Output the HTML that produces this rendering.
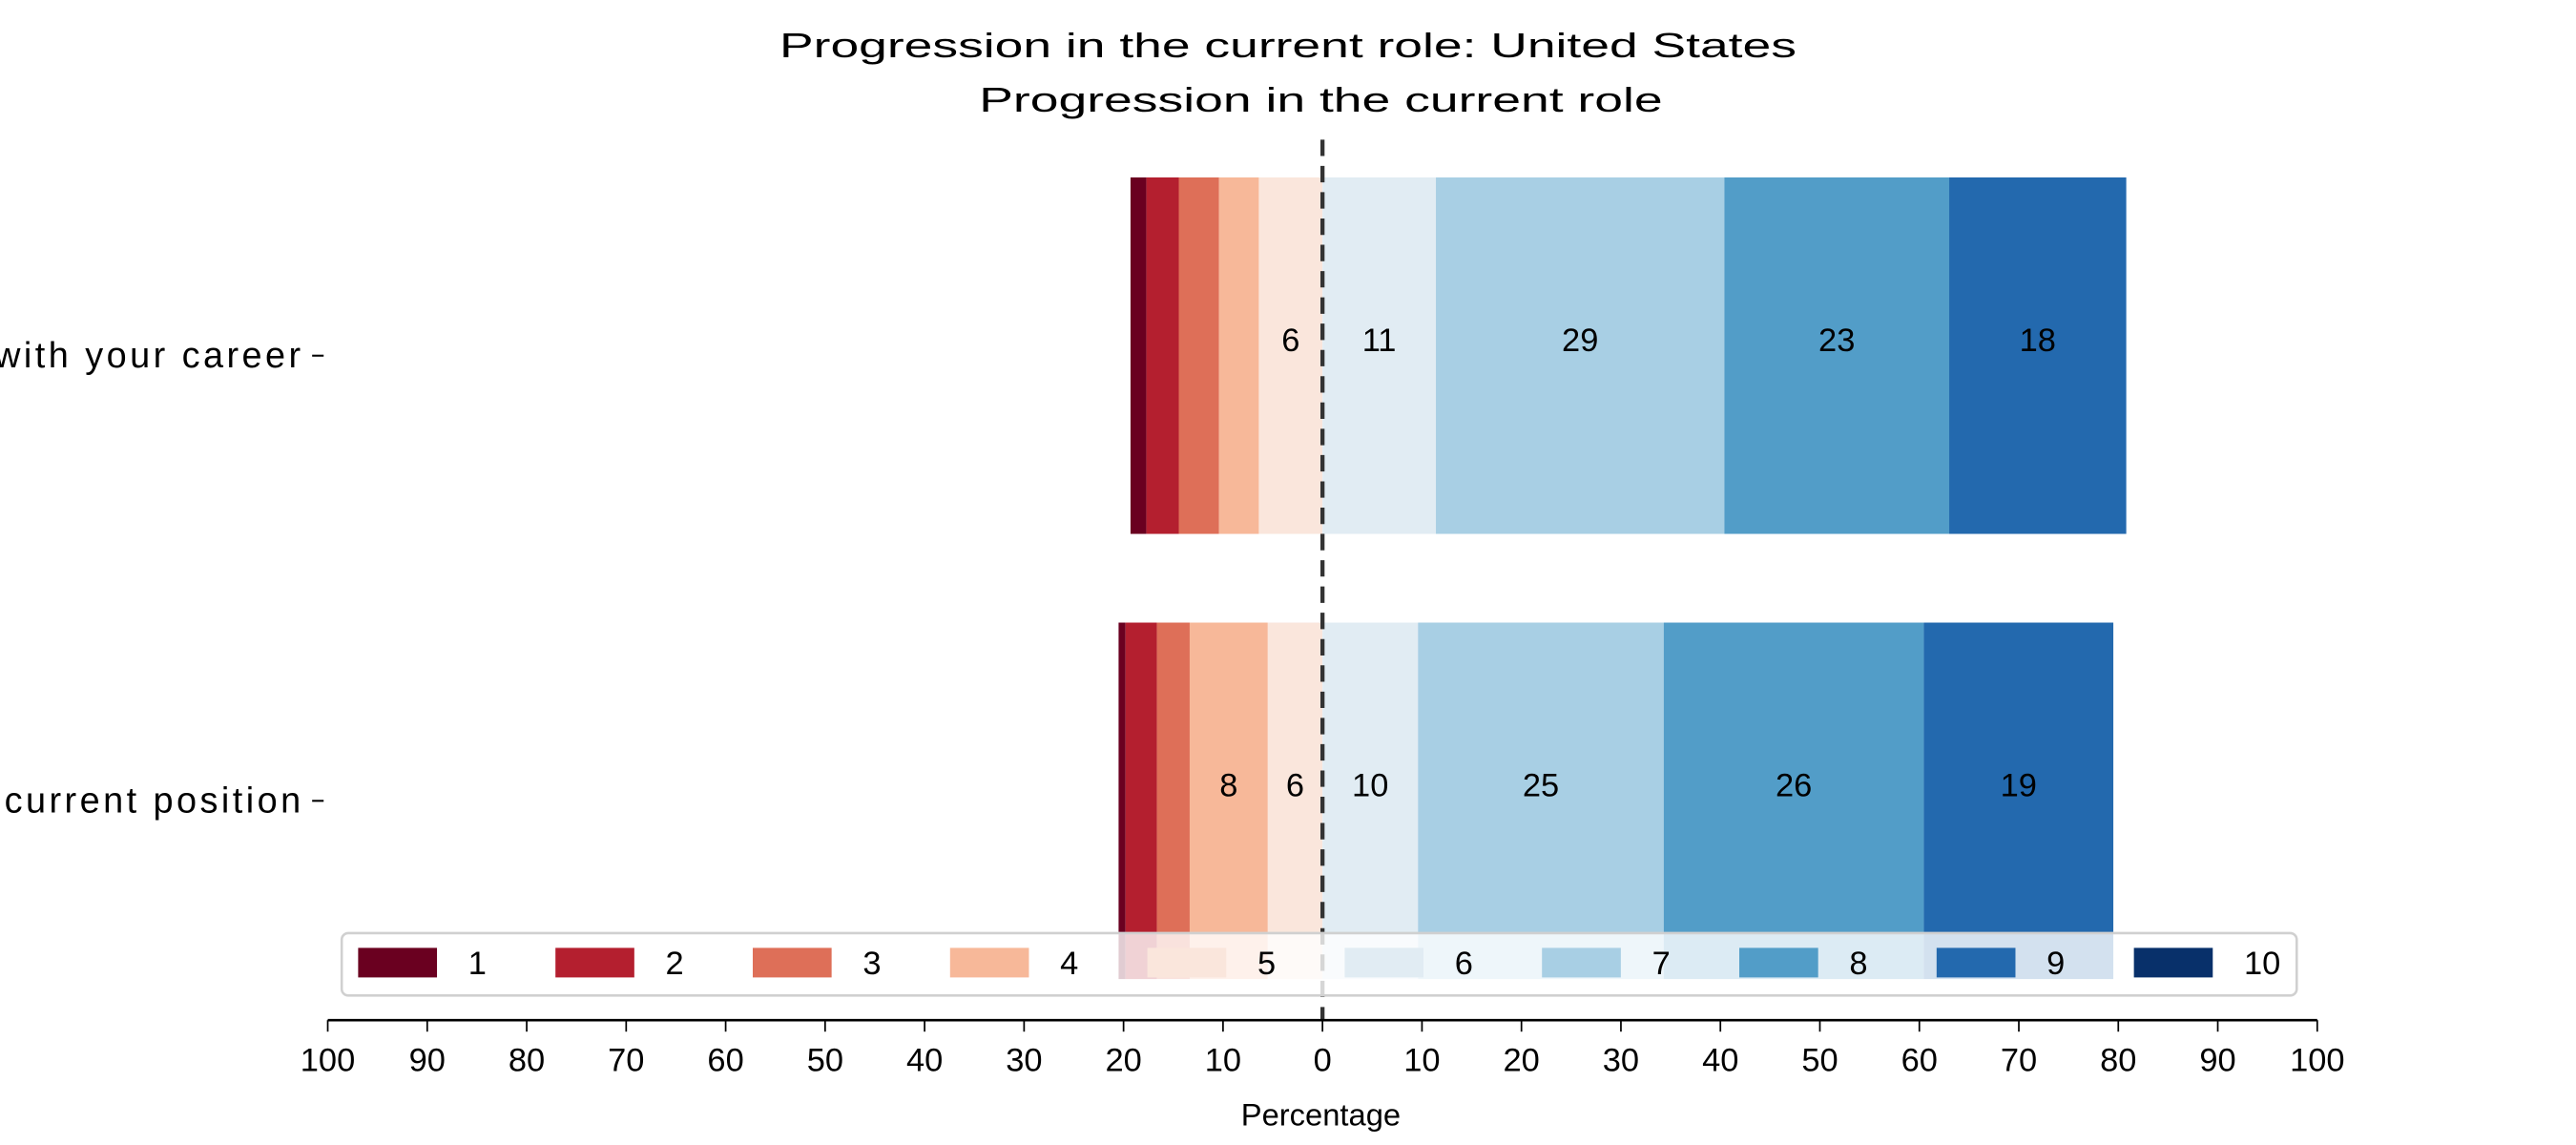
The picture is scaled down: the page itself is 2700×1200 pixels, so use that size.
<!DOCTYPE html>
<html><head><meta charset="utf-8"><style>
html,body{margin:0;padding:0;background:#fff;}
svg{display:block;font-family:"Liberation Sans",sans-serif;}
</style></head><body>
<svg id="chart" width="2700" height="1200" viewBox="0 0 1568 697" preserveAspectRatio="none" xmlns="http://www.w3.org/2000/svg">
<text x="784" y="35" text-anchor="middle" font-size="21" textLength="619" lengthAdjust="spacingAndGlyphs">Progression in the current role: United States</text>
<text x="804" y="68" text-anchor="middle" font-size="21" textLength="416" lengthAdjust="spacingAndGlyphs">Progression in the current role</text>
<g id="bars"></g>
<g id="yaxis"></g>
<line x1="805" y1="85" x2="805" y2="621" stroke="#333" stroke-width="2.5" stroke-dasharray="10,6"/>
<g id="legend"></g>
<g id="xaxis"></g>
<text x="804" y="685" text-anchor="middle" font-size="19">Percentage</text>
</svg>
<script>
const categories = ["Satisfaction with your career", "Satisfaction with your current position"];
const levels = ["1","2","3","4","5","6","7","8","9","10"];
const careerValues = [1.6, 3.25, 4.05, 4.0, 6.4, 11.4, 29.0, 22.6, 17.8, 0];
const positionValues = [0.7, 3.15, 3.3, 7.85, 5.5, 9.6, 24.7, 26.15, 19.05, 0];
const xTicks = [-100,-90,-80,-70,-60,-50,-40,-30,-20,-10,0,10,20,30,40,50,60,70,80,90,100];
const colors = ["#6a0020","#b41f2f","#de6f58","#f7b899","#fae6dc","#e1ecf3","#a8cfe4","#529dc8","#2369ae","#08306a"];
const series = [careerValues, positionValues];

const NS = "http://www.w3.org/2000/svg";
const x = v => 805 + v * 6.055;
const bandTop = [108, 379], bandH = 217;
const y = i => bandTop[i];
function mk(tag, attrs, parent){const e=document.createElementNS(NS,tag);for(const k in attrs)e.setAttribute(k,attrs[k]);parent.appendChild(e);return e;}

const gb = document.getElementById('bars');
series.forEach((vals, i) => {
  const neg = vals.slice(0,5).reduce((a,b)=>a+b,0);
  let start = -neg;
  vals.forEach((v, j) => {
    const r = mk('rect',{x:x(start),y:y(i),width:Math.max(0,x(start+v)-x(start)),height:bandH,fill:colors[j]},gb);
    
    
    if (v >= 5) {
      const t = mk('text',{x:(x(start)+x(start+v))/2,y:y(i)+bandH/2-8,'text-anchor':'middle','dominant-baseline':'middle','font-size':20},gb);
      
      
      t.textContent = Math.round(v);
    }
    start += v;
  });
});

const gy = document.getElementById('yaxis');
categories.forEach((c, i) => {
  const cy = y(i) + bandH/2;
  const t = mk('text',{x:185,y:cy+7,'text-anchor':'end','font-size':22,'letter-spacing':'2'},gy);
  
  
  t.textContent = c;
  const tk = mk('line',{x1:190,y1:cy,x2:197,y2:cy,stroke:'#000','stroke-width':1.2},gy);
  
  
});

const gl = document.getElementById('legend');
const box = mk('rect',{x:208,y:568,width:1190,height:38,rx:4,fill:'rgba(255,255,255,0.8)',stroke:'#d0d0d0','stroke-width':1.5},gl);


levels.forEach((l, j) => {
  const lx = 218 + j * 120.1;
  const s = mk('rect',{x:lx,y:577,width:48,height:18,fill:colors[j]},gl);
  
  
  const t = mk('text',{x:lx+67,y:593,'font-size':20},gl);
  
  
  t.textContent = l;
});

const gx = document.getElementById('xaxis');
const ax = mk('line',{x1:x(-100),y1:621,x2:x(100),y2:621,stroke:'#000','stroke-width':1.5},gx);


xTicks.forEach(v => {
  const tk = mk('line',{x1:x(v),y1:621,x2:x(v),y2:628,stroke:'#000','stroke-width':1},gx);
  
  
  const t = mk('text',{x:x(v),y:652,'text-anchor':'middle','font-size':20},gx);
  
  
  t.textContent = Math.abs(v);
});
</script>
</body></html>
